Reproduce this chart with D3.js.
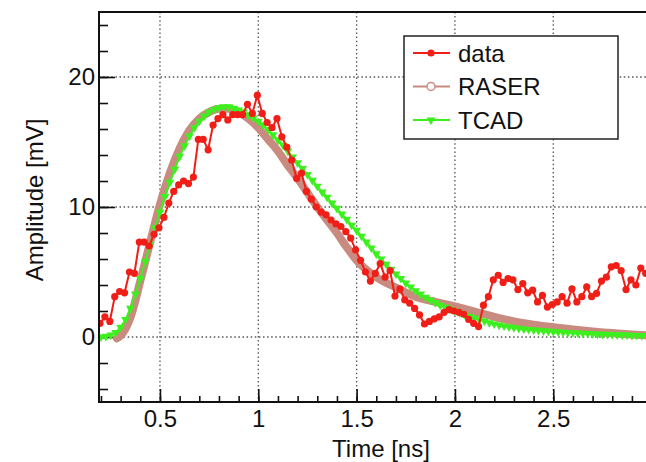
<!DOCTYPE html>
<meta charset="utf-8">
<style>
    body { margin: 0; background: #fff; }
    text { font-family: "Liberation Sans", Arial, sans-serif; font-size: 24px; fill: #111; }
    .grid line { stroke: #555; stroke-width: 1.3; stroke-dasharray: 1.5,2.6; }
    .axis path { display: none; }
    .axis line { stroke: #111; stroke-width: 1.6; }
</style>
<svg width="646" height="462"></svg>
<script src="https://d3js.org/d3.v7.min.js"></script>
<script>
    // measured signal, one sample every 25 ps
    var dataStart = 0.195, dataStep = 0.025;
    var dataAmp = [
        1.05, 1.55, 1.2, 3.1, 3.5, 3.4, 5.0, 4.9, 7.3, 7.3,
        7.0, 7.9, 8.4, 9.2, 10.3, 11.2, 11.7, 12.0, 11.8, 12.3,
        15.2, 15.2, 14.4, 16.3, 16.8, 17.1, 16.7, 17.1, 17.1, 17.1,
        17.9, 17.2, 18.6, 17.2, 16.5, 16.1, 16.8, 15.4, 14.6, 13.6,
        12.2, 12.6, 11.2, 10.6, 10.0, 9.6, 9.4, 9.0, 8.7, 8.5,
        8.1, 7.6, 6.7, 5.9, 5.0, 4.3, 4.9, 5.65, 4.6, 5.1,
        3.15, 3.7, 2.85, 2.6, 2.2, 1.7, 1.0, 1.2, 1.4, 1.55,
        1.9, 2.1, 2.0, 1.9, 1.75, 1.35, 1.05, 0.8, 2.45, 3.1,
        4.4, 4.75, 4.2, 4.5, 4.4, 3.65, 4.1, 3.4, 3.6, 2.7,
        3.2, 2.3, 2.5, 2.7, 3.1, 2.6, 3.7, 2.7, 3.1, 3.85,
        3.1, 3.35, 4.3, 4.6, 5.4, 5.5, 5.1, 3.65, 4.4, 4.0,
        5.3, 4.9
    ];

    var raserTime = [0.28, 0.30, 0.35, 0.40, 0.45, 0.50, 0.55, 0.60, 0.65, 0.70,
        0.75, 0.80, 0.85, 0.90, 0.95, 1.00, 1.05, 1.10, 1.15, 1.20,
        1.25, 1.30, 1.35, 1.40, 1.45, 1.50, 1.60, 1.70, 1.80, 1.90,
        2.00, 2.10, 2.20, 2.30, 2.40, 2.50, 2.60, 2.70, 2.80, 2.90, 3.00];
    var raserAmp = [-0.1, 0.1, 1.5, 4.3, 7.3, 10.2, 12.6, 14.5, 15.9, 16.8,
        17.3, 17.55, 17.55, 17.3, 16.8, 16.1, 15.2, 14.3, 13.2, 12.2,
        11.1, 10.0, 9.0, 8.0, 6.9, 5.9, 4.6, 3.8, 3.1, 2.7,
        2.35, 1.95, 1.55, 1.2, 0.95, 0.75, 0.58, 0.43, 0.3, 0.2, 0.1];

    var tcadStart = 0.2, tcadStep = 0.025;
    var tcadAmp = [
        0.0, 0.05, 0.15, 0.35, 0.75, 1.35, 2.2, 3.3, 4.5, 5.8,
        7.1, 8.4, 9.6, 10.8, 11.9, 12.9, 13.9, 14.7, 15.45, 16.1,
        16.6, 17.0, 17.3, 17.5, 17.65, 17.7, 17.7, 17.6, 17.45, 17.3,
        17.1, 16.85, 16.6, 16.3, 15.95, 15.55, 15.15, 14.75, 14.3, 13.85,
        13.4, 12.95, 12.5, 12.05, 11.6, 11.15, 10.75, 10.3, 9.9, 9.45,
        9.05, 8.6, 8.2, 7.75, 7.3, 6.85, 6.4, 6.0, 5.6, 5.2,
        4.85, 4.5, 4.15, 3.85, 3.55, 3.3, 3.05, 2.85, 2.65, 2.45,
        2.3, 2.15, 2.0, 1.85, 1.72, 1.58, 1.45, 1.33, 1.22, 1.1,
        1.0, 0.92, 0.85, 0.78, 0.72, 0.67, 0.62, 0.58, 0.55, 0.51,
        0.48, 0.45, 0.42, 0.4, 0.37, 0.35, 0.33, 0.31, 0.29, 0.27,
        0.25, 0.23, 0.21, 0.2, 0.18, 0.17, 0.16, 0.15, 0.13, 0.12,
        0.11, 0.1, 0.1
    ];

    var xTicks = [0.5, 1, 1.5, 2, 2.5];
    var xTickLabels = ["0.5", "1", "1.5", "2", "2.5"];
    var yTicks = [0, 10, 20];
    var yTickLabels = ["0", "10", "20"];
    var legendNames = ["data", "RASER", "TCAD"];

    var red = "#f01e16", rose = "#c98a80", green = "#3cf01e";

    var svg = d3.select('svg'),
        pL = 99, pR = 651.6, pT = 12, pB = 402;

    var x = d3.scaleLinear().domain([0.19, 3.0]).range([pL, pR]);
    var y = d3.scaleLinear().domain([-5, 25]).range([pB, pT]);

    var data = dataAmp.map(function(v, i) { return [dataStart + i * dataStep, v]; });
    var raser = raserTime.map(function(t, i) { return [t, raserAmp[i]]; });
    var tcad = tcadAmp.map(function(v, i) { return [tcadStart + i * tcadStep, v]; });

    svg.append('rect').attr('width', 646).attr('height', 462).attr('fill', '#fff');

    svg.append('clipPath').attr('id', 'plot')
        .append('rect').attr('x', pL).attr('y', pT)
        .attr('width', pR - pL).attr('height', pB - pT);

    // dotted grid on the major ticks
    var grid = svg.append('g').attr('class', 'grid');
    grid.selectAll('.gx').data(xTicks).enter().append('line')
        .attr('x1', d => x(d)).attr('x2', d => x(d))
        .attr('y1', pT).attr('y2', pB);
    grid.selectAll('.gy').data(yTicks).enter().append('line')
        .attr('x1', pL).attr('x2', pR)
        .attr('y1', d => y(d)).attr('y2', d => y(d));

    // ticks point into the frame
    svg.append('g').attr('class', 'axis')
        .attr('transform', 'translate(0,' + pB + ')')
        .call(d3.axisBottom(x).tickValues(d3.range(0.2, 3.001, 0.1)).tickSize(-6).tickFormat(''));
    svg.append('g').attr('class', 'axis')
        .attr('transform', 'translate(0,' + pB + ')')
        .call(d3.axisBottom(x).tickValues(xTicks).tickSize(-13).tickPadding(8)
            .tickFormat(function(d, i) { return xTickLabels[i]; }));
    svg.append('g').attr('class', 'axis')
        .attr('transform', 'translate(' + pL + ',0)')
        .call(d3.axisLeft(y).tickValues(d3.range(-4, 25, 2)).tickSize(-9).tickFormat(''));
    svg.append('g').attr('class', 'axis')
        .attr('transform', 'translate(' + pL + ',0)')
        .call(d3.axisLeft(y).tickValues(yTicks).tickSize(-16).tickPadding(4)
            .tickFormat(function(d, i) { return yTickLabels[i]; }));
    svg.selectAll('.axis text').style('font-size', '24px').attr('fill', '#111');

    var line = d3.line().x(d => x(d[0])).y(d => y(d[1]));
    var series = svg.append('g').attr('clip-path', 'url(#plot)');

    // RASER: dense open circles, reads as a thick band
    series.append('path').datum(raser)
        .attr('d', line.curve(d3.curveMonotoneX))
        .attr('fill', 'none').attr('stroke', rose).attr('stroke-width', 8)
        .attr('stroke-linecap', 'round');

    line.curve(d3.curveLinear);
    series.append('path').datum(tcad)
        .attr('d', line).attr('fill', 'none').attr('stroke', green).attr('stroke-width', 2);
    var tri = d3.symbol().type(d3.symbolTriangle).size(34);
    series.selectAll('.tcad').data(tcad).enter().append('path')
        .attr('d', tri).attr('fill', green)
        .attr('transform', d => 'translate(' + x(d[0]) + ',' + y(d[1]) + ') rotate(180)');

    series.append('path').datum(data)
        .attr('d', line).attr('fill', 'none').attr('stroke', red).attr('stroke-width', 2);
    series.selectAll('.pt').data(data).enter().append('circle')
        .attr('cx', d => x(d[0])).attr('cy', d => y(d[1])).attr('r', 3.6).attr('fill', red);

    // frame
    svg.append('rect').attr('x', pL).attr('y', pT)
        .attr('width', pR - pL).attr('height', pB - pT)
        .attr('fill', 'none').attr('stroke', '#111').attr('stroke-width', 2);

    // axis titles
    svg.append('text').attr('x', 381).attr('y', 457).attr('text-anchor', 'middle').text('Time [ns]');
    svg.append('text').attr('transform', 'translate(43,200) rotate(-90)')
        .attr('text-anchor', 'middle').text('Amplitude [mV]');

    // legend
    var lg = svg.append('g');
    lg.append('rect').attr('x', 404).attr('y', 36).attr('width', 214).attr('height', 103)
        .attr('fill', '#fff').attr('stroke', '#222').attr('stroke-width', 1.5);
    var rows = lg.selectAll('.row').data(legendNames).enter().append('g')
        .attr('transform', function(d, i) { return 'translate(0,' + (53 + i * 33.5) + ')'; });
    var colors = [red, rose, green];
    rows.append('line').attr('x1', 413).attr('x2', 450)
        .attr('stroke', (d, i) => colors[i]).attr('stroke-width', 2);
    rows.filter((d, i) => i === 0).append('circle').attr('cx', 431).attr('r', 3.6).attr('fill', red);
    rows.filter((d, i) => i === 1).append('circle').attr('cx', 431).attr('r', 4)
        .attr('fill', '#fff').attr('stroke', rose).attr('stroke-width', 1.5);
    rows.filter((d, i) => i === 2).append('path').attr('d', tri).attr('fill', green)
        .attr('transform', 'translate(431,0) rotate(180)');
    rows.append('text').attr('x', 458).attr('y', 8.5).text(d => d);
</script>
